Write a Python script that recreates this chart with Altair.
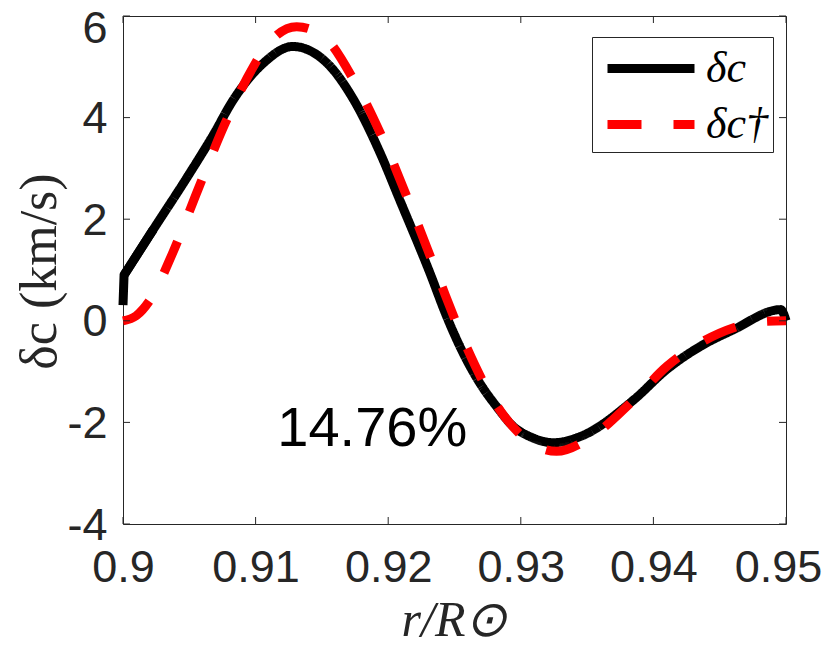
import altair as alt
import pandas as pd

# ---- data ----
series_names = ["δc", "δc†"]

x_dc = [0.9000, 0.90008, 0.90229, 0.9048, 0.90681, 0.90832, 0.91058, 0.9128, 0.9154,
        0.9174, 0.91938, 0.9209, 0.92315, 0.92441, 0.92566, 0.92692, 0.92818, 0.92943,
        0.93069, 0.93245, 0.93446, 0.9385, 0.9410, 0.9435, 0.9460, 0.9496, 0.9500]
y_dc = [0.31, 0.90, 1.80, 2.81, 3.66, 4.35, 5.07, 5.40, 5.07,
        4.35, 3.31, 2.36, 0.94, 0.085, -0.64, -1.23, -1.69, -2.08,
        -2.28, -2.40, -2.28, -1.56, -0.96, -0.51, -0.18, 0.22, 0.00]

x_dct = [0.9000, 0.9010, 0.90204, 0.90372, 0.90568, 0.90769, 0.90983, 0.9106, 0.9131,
         0.9151, 0.9174, 0.9196, 0.9219, 0.92378, 0.92558, 0.92793, 0.93044, 0.9327,
         0.9350, 0.9385, 0.9410, 0.9435, 0.9460, 0.9485, 0.9500]
y_dct = [0.00, 0.10, 0.41, 1.32, 2.60, 3.88, 5.00, 5.33, 5.79,
         5.60, 4.74, 3.58, 2.12, 0.86, -0.32, -1.56, -2.34, -2.57,
         -2.34, -1.56, -0.90, -0.44, -0.14, -0.01, 0.00]

x_ticks = [0.9, 0.91, 0.92, 0.93, 0.94, 0.95]
y_ticks = [-4, -2, 0, 2, 4, 6]

annot_x = [0.9188]
annot_y = [-2.13]
annot_text = ["14.76%"]

# ---- build tables ----
df_dc_start = pd.DataFrame({"r": x_dc[:3], "dc": y_dc[:3], "series": series_names[0]})
df_dc = pd.DataFrame({"r": x_dc[1:], "dc": y_dc[1:], "series": series_names[0]})
df_dct = pd.DataFrame({"r": x_dct, "dc": y_dct, "series": series_names[1]})
xt_df = pd.DataFrame({"r": x_ticks})
yt_df = pd.DataFrame({"dc": y_ticks})
an_df = pd.DataFrame({"r": annot_x, "dc": annot_y, "label": annot_text})

W, H = 663, 508
AX = "#262626"
TK = 7

xscale = alt.Scale(domain=[0.9, 0.95], nice=False, zero=False)
yscale = alt.Scale(domain=[-4, 6], nice=False, zero=False)

SYM = 44            # legend symbol box (keeps rows at label height)
HALF = 87 / SYM     # custom path half-length so the drawn line is 87 px long
PAD = 5
leg = alt.Legend(
    title=None, orient="none", legendX=469, legendY=21,
    symbolType=f"M-{HALF:.4f},0H{HALF:.4f}", symbolSize=SYM * SYM, symbolStrokeWidth=9,
    symbolOffset=27.5, labelOffset=28.5,
    labelFont="Liberation Serif", labelFontStyle="italic", labelFontSize=44,
    labelColor="black", labelLimit=300, labelBaseline="middle",
    strokeColor=AX, fillColor="white", padding=PAD, rowPadding=7,
)
color = alt.Color("series:N", scale=alt.Scale(domain=series_names, range=["#000000", "#ff0000"]), legend=leg)
dash = alt.StrokeDash("series:N", scale=alt.Scale(domain=series_names, range=[[1, 0], [34, 32]]), legend=leg)

xaxis = alt.Axis(
    values=x_ticks, labelExpr="toString(datum.value)", grid=False, ticks=False, domain=False,
    labelFont="Liberation Sans", labelFontSize=45, labelColor=AX, labelPadding=21,
    labelOffset={"condition": {"test": "datum.value == 0.95", "value": -8}, "value": 0},
    labelFlush=False, labelOverlap=False,
    title="r/R⊙", titleFont="Liberation Serif", titleFontStyle="italic", titleFontWeight="normal",
    titleFontSize=50, titleColor=AX, titleX=331, titleY=111, titleAlign="center",
    titleBaseline="alphabetic",
)
yaxis = alt.Axis(
    values=y_ticks, labelExpr="toString(datum.value)", grid=False, ticks=False, domain=False,
    labelFont="Liberation Sans", labelFontSize=45, labelColor=AX, labelPadding=16,
    labelOffset={"condition": {"test": "datum.value == 6", "value": 12}, "value": 1},
    labelFlush=False, labelOverlap=False,
    title="δc (km/s)", titleFont="Liberation Serif", titleFontWeight="normal",
    titleFontSize=52, titleColor=AX, titleAngle=270, titleX=-84, titleY=255,
    titleAlign="center", titleBaseline="middle",
)

X = alt.X("r:Q", scale=xscale, axis=xaxis)
Y = alt.Y("dc:Q", scale=yscale, axis=yaxis)

line_dc_start = alt.Chart(df_dc_start).mark_line(strokeWidth=9, interpolate="linear", strokeJoin="miter").encode(
    x=X, y=Y, color=color, strokeDash=dash)
line_dc = alt.Chart(df_dc).mark_line(strokeWidth=9, interpolate="monotone").encode(
    x=X, y=Y, color=color, strokeDash=dash)
line_dct = alt.Chart(df_dct).mark_line(strokeWidth=9, interpolate="monotone").encode(
    x=X, y=Y, color=color, strokeDash=dash)

tick_bottom = alt.Chart(xt_df).mark_rule(color=AX, strokeWidth=1).encode(
    x=X, y=alt.value(H), y2=alt.value(H - TK))
tick_top = alt.Chart(xt_df).mark_rule(color=AX, strokeWidth=1).encode(
    x=X, y=alt.value(0), y2=alt.value(TK))
tick_left = alt.Chart(yt_df).mark_rule(color=AX, strokeWidth=1).encode(
    y=Y, x=alt.value(0), x2=alt.value(TK))
tick_right = alt.Chart(yt_df).mark_rule(color=AX, strokeWidth=1).encode(
    y=Y, x=alt.value(W), x2=alt.value(W - TK))

annot = alt.Chart(an_df).mark_text(
    font="Liberation Sans", fontSize=56, color="black", align="center", baseline="middle"
).encode(x=X, y=Y, text="label:N")

chart = alt.layer(
    line_dc_start, line_dc, line_dct, tick_bottom, tick_top, tick_left, tick_right, annot
).properties(
    width=W, height=H,
    autosize=alt.AutoSizeParams(type="none"),
    padding={"left": 115, "top": 8, "right": 36, "bottom": 124},
    background="white",
).configure_view(stroke=AX, strokeWidth=1)

chart.save("out.html", embed_options={"renderer": "svg", "actions": False})
